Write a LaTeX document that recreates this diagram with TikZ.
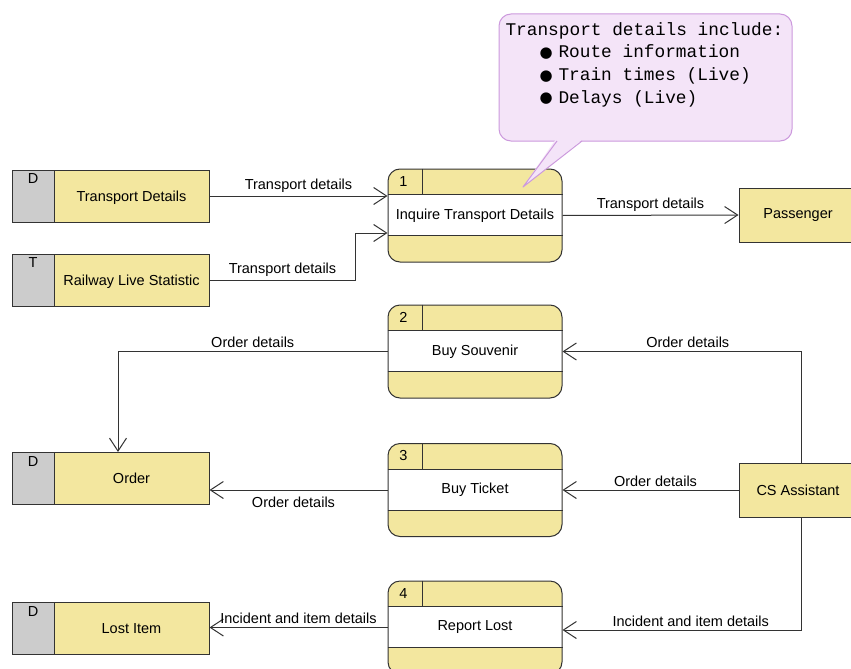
\documentclass[tikz,border=0pt]{standalone}
\usepackage{fontspec}
\setmainfont{Liberation Sans}
\setmonofont{Liberation Mono}
\newfontfamily\dejavu{DejaVu Sans}
\usetikzlibrary{arrows.meta}
\definecolor{dfdyellow}{HTML}{F3E79F}
\definecolor{dfdgray}{HTML}{CCCCCC}
\definecolor{notefill}{HTML}{F4E4F8}
\definecolor{notedraw}{HTML}{CC99DD}
\definecolor{linec}{HTML}{333333}
\newcommand{\dfdfont}{\fontsize{14.5}{17}\selectfont}
\newcommand{\notefont}{\fontsize{17.8}{22.6}\selectfont\ttfamily}
\newcommand{\nbullet}{\hspace*{34pt}\makebox[19pt][l]{\raisebox{0.5pt}{\dejavu\fontsize{15}{15}\selectfont ●}}}
\begin{document}
\begin{tikzpicture}[x=1pt,y=-1pt,line width=1pt,
  >={Straight Barb[length=13pt,width=17pt]},
  proc/.style={draw=linec,fill=dfdyellow,rounded corners=12pt,minimum width=174pt,minimum height=93pt,inner sep=0pt,font=\dfdfont,
    path picture={\fill[white,sharp corners] ([yshift=-26pt]path picture bounding box.north west) rectangle ([yshift=27pt]path picture bounding box.south east);}},
  store/.style={draw=linec,fill=dfdyellow,minimum width=155pt,minimum height=52pt,inner sep=0pt,font=\dfdfont,yshift=-1pt,text depth=0pt},
  storeid/.style={draw=linec,fill=dfdgray,minimum width=42pt,minimum height=52pt,inner sep=0pt,font=\dfdfont,yshift=-1pt},
  sid/.style={anchor=north,inner sep=4pt,font=\dfdfont},
  ext/.style={draw=linec,fill=dfdyellow,minimum width=118pt,minimum height=54pt,inner sep=0pt,font=\dfdfont},
  flow/.style={draw=linec,->},
  flab/.style={font=\dfdfont,inner sep=3pt},
  pnum/.style={font=\dfdfont,anchor=center}
]
\clip (0,0) rectangle (851,669);
\fill[white] (0,0) rectangle (851,669);

% data stores
\node[store] (td) at (131.5,195) {Transport Details};
\node[storeid,label={[sid]north:D}] (tdg) at (33,195) {};
\node[store] (rl) at (131.5,279) {Railway Live Statistic};
\node[storeid,label={[sid]north:T}] (rlg) at (33,279) {};
\node[store] (ord) at (131.5,477.5) {Order};
\node[storeid,label={[sid]north:D}] (ordg) at (33,477.5) {};
\node[store] (lost) at (131.5,627.5) {Lost Item};
\node[storeid,label={[sid]north:D}] (lostg) at (33,627.5) {};

% processes
\foreach \n/\y/\t in {1/215.5/Inquire Transport Details,2/351.5/Buy Souvenir,3/490/Buy Ticket,4/627.5/Report Lost}{
  \node[proc] (p\n) at (475,\y) {\t};
  \draw[linec] ([yshift=-26pt]p\n.north west) -- ([yshift=-26pt]p\n.north east);
  \draw[linec] ([yshift=27pt]p\n.south west) -- ([yshift=27pt]p\n.south east);
  \draw[linec] ([xshift=35pt]p\n.north west) -- ([xshift=35pt,yshift=-26pt]p\n.north west);
  \node[pnum] (p\n num) at ([xshift=16pt,yshift=-13pt]p\n.north west) {\n};
}

% external entities
\node[ext] (pass) at (798,215) {Passenger};
\node[ext] (cs) at (798,490) {CS Assistant};

% callout
\draw[fill=notefill,draw=notedraw,rounded corners=12pt] (499,14) rectangle (792,141);
\fill[notefill] (556,139) -- (523,187) -- (583,139) -- cycle;
\draw[notedraw,line join=round] (557,141) -- (523,187) -- (582,141);
\node[anchor=north west,align=left,inner sep=0pt,font=\notefont] (note) at (505,22)
  {Transport details include:\\
   \nbullet Route information\\
   \nbullet Train times (Live)\\
   \nbullet Delays (Live)};

% flows
\draw[flow] (td.east) -- (td.east -| p1.west) node[flab,midway,above] {Transport details};
\draw[flow] (rl.east) -- ++(146,0) node[flab,midway,above] {Transport details} |- ([yshift=-17.5pt]p1.west);
\draw[flow] (p1.east) -- (pass.west) node[flab,midway,above] {Transport details};
\draw[flow] (p2.west) -| ([xshift=-13.5pt]ord.north) node[flab,pos=0.25,above] {Order details};
\draw[flow] (p3.west) -- (p3.west -| ord.east) node[flab,midway,below,xshift=-5pt,yshift=-3pt] {Order details};
\draw[flow] (cs.west) -- (p3.east) node[flab,midway,above,xshift=5pt] {Order details};
\draw[flow] ([xshift=3pt]cs.north) |- (p2.east) node[flab,pos=0.75,above,xshift=6pt] {Order details};
\draw[flow] ([xshift=3pt]cs.south) |- ([yshift=-2.5pt]p4.east) node[flab,pos=0.75,above,xshift=9pt] {Incident and item details};
\draw[flow] (p4.west) -- (p4.west -| lost.east) node[flab,midway,above] {Incident and item details};
\end{tikzpicture}
\end{document}
